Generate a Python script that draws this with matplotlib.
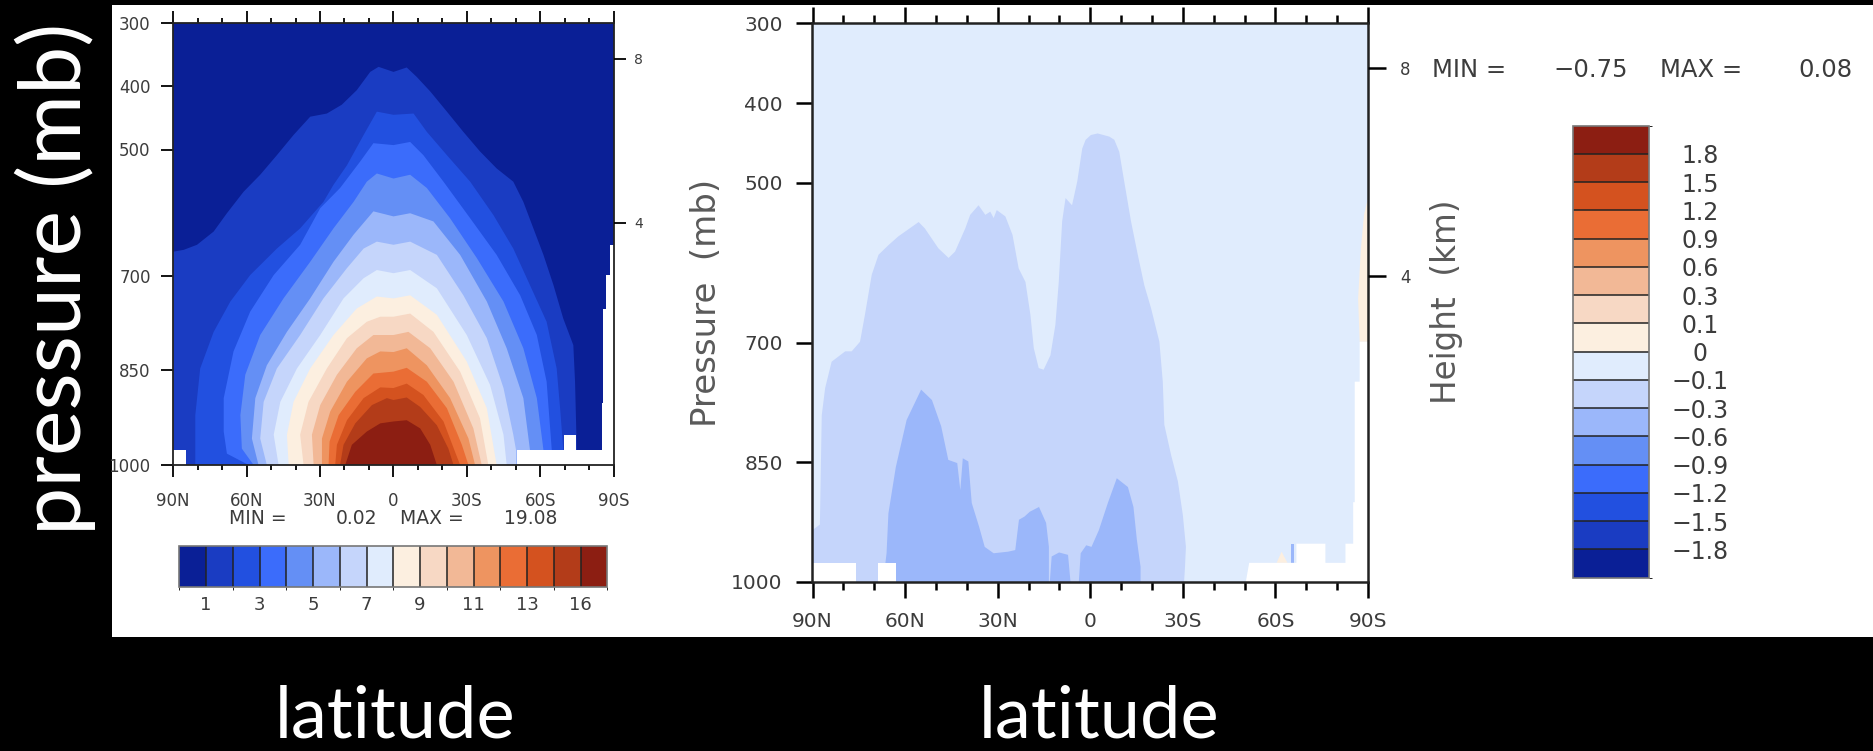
import matplotlib
matplotlib.use("Agg")
import matplotlib.pyplot as plt
import numpy as np
from matplotlib.colors import ListedColormap, BoundaryNorm
from matplotlib.cm import ScalarMappable
from matplotlib.patches import Rectangle
from matplotlib.ticker import MultipleLocator

W, H = 1874, 751

# ---- axes / labelbar data -------------------------------------------------
lat_ticks = [90, 60, 30, 0, -30, -60, -90]
lat_labels = ["90N", "60N", "30N", "0", "30S", "60S", "90S"]
p_ticks = [300, 400, 500, 700, 850, 1000]
height_ticks = [4, 8]          # km, standard atmosphere

q_levels = [1, 2, 3, 4, 5, 6, 7, 8, 9, 10, 11, 12, 13, 14, 16]
q_labels = [1, 3, 5, 7, 9, 11, 13, 16]
q_min, q_max = 0.02, 19.08

dq_levels = [-1.8, -1.5, -1.2, -0.9, -0.6, -0.3, -0.1, 0, 0.1, 0.3, 0.6, 0.9, 1.2, 1.5, 1.8]
dq_min, dq_max = -0.75, 0.08

box_colors = ["#0a1f96", "#1a3cc2", "#2250e0", "#3b6cfb", "#648ff5", "#9bb7fa",
              "#c5d5fb", "#e0ecfd", "#fcefe0", "#f7d8c4", "#f2b896", "#ee9460",
              "#ea6d35", "#d4521f", "#b33c19", "#8c1e12"]

# ---- left panel: outlines of q >= level (lat, pressure) ------------------
lat_ge01 = [90, 85.6, 80.2, 73.4, 68.0, 61.2, 54.4, 47.6, 40.8, 34.0, 27.2, 21.1, 15.0, 9.5, 6.1, 0.0,
            -5.4, -9.5, -15.0, -21.8, -28.5, -35.3, -42.1, -48.9, -53.0, -57.1, -61.2, -65.3, -69.3,
            -73.4, -74.1, -74.8]
p_ge01 = [662, 659, 651, 630, 601, 567, 540, 509, 477, 448, 443, 429, 406, 377, 369, 377,
          370, 385, 408, 440, 472, 503, 530, 551, 583, 625, 667, 715, 768, 810, 868, 976]
lat_ge02 = [80.9, 80.9, 78.9, 73.4, 66.6, 58.5, 47.6, 38.1, 28.6, 24.5, 19.0, 12.2, 6.8, 0.0, -8.2,
            -13.6, -21.8, -31.3, -40.8, -48.9, -55.7, -62.5, -66.6, -68.0, -69.3]
p_ge02 = [1000, 921, 847, 789, 741, 699, 657, 625, 583, 556, 525, 477, 440, 445, 443,
          472, 509, 551, 604, 657, 715, 773, 847, 910, 976]
lat_ge03 = [59.1, 68.0, 69.3, 69.3, 65.3, 58.5, 48.9, 38.1, 29.9, 21.8, 13.6, 8.2, 0.0, -6.8, -12.2,
            -20.4, -31.3, -42.1, -51.7, -58.5, -62.5, -64.6]
p_ge03 = [1000, 982, 947, 894, 820, 757, 699, 651, 593, 561, 519, 490, 493, 488, 509,
          551, 609, 667, 731, 794, 868, 976]
lat_ge04 = [57.1, 61.9, 62.5, 60.5, 54.4, 44.9, 34.0, 24.5, 16.3, 10.9, 6.8, 0.0, -6.8, -13.6, -23.1,
            -34.0, -44.9, -53.0, -58.5, -61.2]
p_ge04 = [1000, 974, 921, 857, 794, 736, 678, 625, 583, 551, 538, 546, 540, 561, 609,
          672, 741, 815, 894, 976]
lat_ge05 = [55.1, 57.8, 56.4, 51.7, 43.5, 34.0, 24.5, 16.3, 8.2, 0.0, -6.8, -16.3, -27.2, -38.1,
            -46.2, -53.0, -55.7]
p_ge05 = [1000, 958, 894, 842, 789, 736, 678, 635, 598, 606, 601, 614, 667, 741, 815, 894, 976]
lat_ge06 = [51.7, 54.4, 53.0, 47.6, 38.1, 28.6, 19.0, 12.2, 6.8, 0.0, -6.8, -17.7, -28.5, -38.1,
            -44.9, -48.9, -50.0]
p_ge06 = [1000, 958, 900, 847, 794, 736, 688, 657, 646, 651, 646, 667, 731, 799, 878, 952, 976]
lat_ge07 = [46.9, 48.9, 46.2, 39.4, 29.9, 20.4, 12.2, 6.8, 0.0, -6.8, -17.7, -29.9, -39.4, -44.9, -46.2]
p_ge07 = [1000, 952, 900, 847, 794, 736, 704, 691, 696, 691, 720, 794, 873, 952, 1000]
lat_ge08 = [42.8, 43.5, 40.8, 34.0, 24.5, 15.0, 6.8, 0.0, -6.8, -17.7, -29.9, -38.1, -42.1]
p_ge08 = [1000, 952, 900, 847, 794, 752, 733, 736, 731, 762, 836, 910, 1000]
lat_ge09 = [36.7, 38.1, 34.7, 27.2, 19.0, 10.9, 5.4, 0.0, -6.8, -16.3, -27.2, -35.3, -38.7]
p_ge09 = [1000, 952, 900, 847, 799, 773, 765, 765, 760, 789, 852, 926, 1000]
lat_ge10 = [32.6, 33.3, 29.9, 23.1, 15.0, 8.2, 0.0, -6.1, -15.0, -24.5, -32.6, -36.0]
p_ge10 = [1000, 952, 905, 857, 815, 794, 794, 789, 815, 868, 942, 1000]
lat_ge11 = [29.2, 29.2, 25.8, 19.0, 10.9, 5.4, 0.0, -5.4, -13.6, -23.1, -30.6, -33.3]
p_ge11 = [1000, 958, 915, 868, 831, 820, 821, 815, 842, 894, 958, 1000]
lat_ge12 = [26.5, 26.1, 22.4, 15.6, 8.2, 0.0, -5.4, -13.6, -21.8, -27.9, -30.6]
p_ge12 = [1000, 963, 921, 884, 855, 852, 846, 868, 910, 968, 1000]
lat_ge13 = [23.8, 23.1, 19.0, 12.2, 5.4, 0.0, -5.4, -12.2, -20.4, -25.1, -27.2]
p_ge13 = [1000, 968, 929, 894, 877, 878, 871, 889, 931, 979, 1000]
lat_ge14 = [21.8, 20.4, 15.6, 8.8, 2.7, 0.0, -5.4, -10.9, -17.7, -22.4, -24.5]
p_ge14 = [1000, 968, 934, 905, 894, 897, 893, 908, 937, 974, 1000]
lat_ge16 = [19.7, 17.0, 10.9, 5.4, 0.0, -5.4, -10.9, -15.0, -17.7]
p_ge16 = [1000, 968, 947, 934, 931, 929, 942, 968, 1000]

# below-ground (missing) cells, left panel
lat_miss_l1 = [90, 84.6, 84.6, 90]
p_miss_l1 = [976, 976, 1000, 1000]
lat_miss_l2 = [-50.3, -50.3, -69.7, -69.7, -74.5, -74.5, -85.0, -85.0, -85.6, -85.6, -86.7, -86.7,
               -88.4, -88.4, -90, -90]
p_miss_l2 = [1000, 976, 976, 952, 952, 976, 976, 902, 902, 752, 752, 699, 699, 651, 651, 1000]

# ---- right panel: difference field ---------------------------------------
# area below -0.1
lat_dq_a = [90, 87.6, 87.0, 85.9, 83.8, 79.4, 77.3, 74.6, 73.0, 70.8, 68.6, 65.4, 62.2, 60.0, 55.6,
            53.6, 49.2, 45.9, 43.8, 40.5, 38.9, 36.2, 34.0, 32.4, 31.3, 30.3, 27.5, 25.2, 23.2, 21.0,
            19.4, 18.3, 16.7, 15.1, 12.9, 11.3, 10.2, 9.1, 8.0, 5.9, 4.2, 2.6, 1.5, -0.2, -2.4,
            -6.2, -7.8, -9.4, -11.0, -13.2, -15.4, -17.5, -19.7, -22.4, -23.5, -24.0, -26.2, -28.4,
            -30.0, -30.6, -31.0, -30.7, -30.4]
p_dq_a = [935, 928, 791, 757, 724, 711, 711, 699, 665, 615, 590, 578, 567, 561, 549,
          557, 582, 594, 586, 557, 540, 528, 540, 536, 544, 534, 542, 565, 607, 624,
          665, 707, 732, 734, 716, 678, 624, 548, 519, 528, 498, 457, 446, 440, 438,
          442, 446, 461, 498, 548, 590, 628, 657, 699, 749, 803, 841, 874,
          916, 940, 956, 981, 1000]
# areas below -0.3
lat_dq_b1 = [67.1, 66.0, 65.4, 63.0, 59.5, 54.8, 51.3, 48.3, 46.0, 43.1, 42.1, 41.3, 39.5, 38.4,
             36.0, 34.2, 31.3, 26.6, 24.3, 23.1, 21.3, 19.6, 16.6, 14.3, 13.4, 13.4]
p_dq_b1 = [1000, 964, 914, 856, 797, 759, 772, 805, 847, 851, 885, 845, 849, 901,
           931, 956, 964, 962, 960, 922, 918, 912, 906, 926, 956, 1000]
lat_dq_b2 = [13.1, 12.5, 10.1, 7.2, 6.4]
p_dq_b2 = [1000, 968, 963, 966, 1000]
lat_dq_b3 = [3.7, 3.1, 1.3, -0.4, -2.8, -5.7, -8.6, -12.2, -14.0, -15.1, -16.3, -16.3]
p_dq_b3 = [1000, 964, 954, 956, 935, 901, 870, 881, 906, 947, 981, 1000]
lat_dq_b4 = [-65.1, -66.0, -66.0, -65.1]
p_dq_b4 = [952, 952, 976, 976]
# areas above 0
lat_dq_pos1 = [-90, -88.7, -87.7, -86.8, -87.3, -90]
p_dq_pos1 = [519, 540, 582, 645, 699, 699]
lat_dq_pos2 = [-60.4, -62.0, -63.9]
p_dq_pos2 = [976, 962, 976]
# missing cells, right panel
lat_miss_r1 = [90, 76.0, 76.0, 90]
p_miss_r1 = [976, 976, 1000, 1000]
lat_miss_r2 = [68.9, 63.0, 63.0, 68.9]
p_miss_r2 = [976, 976, 1000, 1000]
lat_miss_r3 = [-50.4, -51.5, -66.8, -66.8, -76.2, -76.2, -82.7, -82.7, -85.2, -85.2, -85.7, -85.7,
               -87.3, -87.3, -90, -90]
p_miss_r3 = [1000, 976, 976, 952, 952, 976, 976, 952, 952, 900, 900, 749, 749, 699, 699, 1000]

TXT = "#3c3c3c"
LBL = "#5a5a5a"


def fx(px):
    return px / W


def fy(py):
    return 1 - py / H


def h2p(h):
    """ standard atmosphere height (km) -> pressure (mb) """
    return 1013.25 * (1 - np.asarray(h) / 44.3308) ** (1 / 0.190263)


def fill_ground(ax, lat, p, color, z=1):
    # region bounded by an outline and the 1000 mb floor
    lat = np.asarray(lat, float)
    p = np.asarray(p, float)
    ax.fill(np.r_[lat, lat[-1], lat[0]], np.r_[p, 1000, 1000], color=color, lw=0, zorder=z)


def fill_poly(ax, lat, p, color, z=2):
    ax.fill(lat, p, color=color, lw=0, zorder=z)


def style_axes(ax, fs, major, minor, xpad, ypad, lw, hfs, hpad, hlen):
    ax.set_xlim(90, -90)
    ax.set_ylim(1000, 300)
    ax.set_xticks(lat_ticks)
    ax.set_xticklabels(lat_labels)
    ax.xaxis.set_minor_locator(MultipleLocator(10))
    ax.set_yticks(p_ticks)
    ax.set_yticklabels([str(v) for v in p_ticks])
    ax.tick_params(which="major", direction="out", length=major, width=lw,
                   labelsize=fs, labelcolor=TXT, top=True, right=False)
    ax.tick_params(axis="x", which="major", pad=xpad)
    ax.tick_params(axis="y", which="major", pad=ypad)
    ax.tick_params(which="minor", direction="out", length=minor, width=lw, top=True)
    ax.tick_params(axis="y", which="minor", left=False)
    for s in ax.spines.values():
        s.set_linewidth(lw)
        s.set_color("#222222")
        s.set_zorder(10)
    ax2 = ax.twinx()
    ax2.set_ylim(1000, 300)
    ax2.set_yticks(h2p(height_ticks))
    ax2.set_yticklabels([str(v) for v in height_ticks])
    ax2.tick_params(direction="out", length=hlen, width=lw, pad=hpad, labelsize=hfs, labelcolor=TXT)
    for s in ax2.spines.values():
        s.set_visible(False)
    return ax2


fig = plt.figure(figsize=(W / 100, H / 100), dpi=100, facecolor="black")
fig.patches.append(Rectangle((fx(112), fy(637)), 1 - fx(112), fy(5) - fy(637),
                             transform=fig.transFigure, facecolor="white", edgecolor="none", zorder=-10))

# ---- left panel ----------------------------------------------------------
axl = fig.add_axes([fx(173), fy(465), fx(614) - fx(173), fy(23.3) - fy(465)])
axl.set_facecolor(box_colors[0])
left_regions = [(lat_ge01, p_ge01), (lat_ge02, p_ge02), (lat_ge03, p_ge03), (lat_ge04, p_ge04),
                (lat_ge05, p_ge05), (lat_ge06, p_ge06), (lat_ge07, p_ge07), (lat_ge08, p_ge08),
                (lat_ge09, p_ge09), (lat_ge10, p_ge10), (lat_ge11, p_ge11), (lat_ge12, p_ge12),
                (lat_ge13, p_ge13), (lat_ge14, p_ge14), (lat_ge16, p_ge16)]
for i, (lat, p) in enumerate(left_regions):
    fill_ground(axl, lat, p, box_colors[i + 1])
fill_poly(axl, lat_miss_l1, p_miss_l1, "white", z=3)
fill_poly(axl, lat_miss_l2, p_miss_l2, "white", z=3)
style_axes(axl, fs=12, major=8.6, minor=3.8, xpad=11, ypad=7.5, lw=1.3, hfs=10, hpad=6, hlen=8.6)

y_mm = fy(518)
fig.text(fx(228.6), y_mm, "MIN =", fontsize=13.5, color=TXT, ha="left", va="center")
fig.text(fx(377), y_mm, f"{q_min:.2f}", fontsize=13.5, color=TXT, ha="right", va="center")
fig.text(fx(400), y_mm, "MAX =", fontsize=13.5, color=TXT, ha="left", va="center")
fig.text(fx(557), y_mm, f"{q_max:.2f}", fontsize=13.5, color=TXT, ha="right", va="center")

cmap = ListedColormap(box_colors)
q_bounds = np.r_[q_levels[0] - 1, q_levels, q_levels[-1] + 2]
cax_l = fig.add_axes([fx(179.3), fy(586.7), fx(607.3) - fx(179.3), fy(546) - fy(586.7)])
cb_l = fig.colorbar(ScalarMappable(norm=BoundaryNorm(q_bounds, 16), cmap=cmap), cax=cax_l,
                    orientation="horizontal", spacing="uniform", drawedges=True, ticks=q_labels)
cb_l.ax.set_xticklabels([str(v) for v in q_labels])
cb_l.ax.tick_params(length=0, labelsize=13, labelcolor=TXT, pad=7)
cb_l.outline.set_edgecolor("#777777")
cb_l.outline.set_linewidth(1.2)
cb_l.dividers.set_color("#222222")
cb_l.dividers.set_linewidth(1.1)

# ---- right panel ---------------------------------------------------------
axr = fig.add_axes([fx(812.5), fy(582), fx(1368) - fx(812.5), fy(23.3) - fy(582)])
axr.set_facecolor(box_colors[7])
fill_ground(axr, lat_dq_a, p_dq_a, box_colors[6])
for lat, p in [(lat_dq_b1, p_dq_b1), (lat_dq_b2, p_dq_b2), (lat_dq_b3, p_dq_b3)]:
    fill_ground(axr, lat, p, box_colors[5], z=2)
fill_poly(axr, lat_dq_b4, p_dq_b4, box_colors[5])
fill_poly(axr, lat_dq_pos1, p_dq_pos1, box_colors[8])
fill_poly(axr, lat_dq_pos2, p_dq_pos2, box_colors[8])
for lat, p in [(lat_miss_r1, p_miss_r1), (lat_miss_r2, p_miss_r2), (lat_miss_r3, p_miss_r3)]:
    fill_poly(axr, lat, p, "white", z=3)
style_axes(axr, fs=14.5, major=11.5, minor=6, xpad=10, ypad=10, lw=1.8, hfs=12, hpad=10, hlen=13)
axr.set_ylabel("Pressure  (mb)", fontsize=24.5, color=LBL, labelpad=6)
fig.text(fx(1447), fy(302), "Height  (km)", fontsize=23.5, color=LBL, rotation=90,
         ha="center", va="center")

y_mm = fy(70)
fig.text(fx(1432), y_mm, "MIN =", fontsize=17.5, color=TXT, ha="left", va="center")
fig.text(fx(1628), y_mm, f"{dq_min:.2f}".replace("-", "\u2212"), fontsize=17.5, color=TXT,
         ha="right", va="center")
fig.text(fx(1660), y_mm, "MAX =", fontsize=17.5, color=TXT, ha="left", va="center")
fig.text(fx(1853), y_mm, f"{dq_max:.2f}", fontsize=17.5, color=TXT, ha="right", va="center")

dq_bounds = np.r_[dq_levels[0] - 0.3, dq_levels, dq_levels[-1] + 0.3]
cax_r = fig.add_axes([fx(1572.7), fy(577.5), fx(1648.7) - fx(1572.7), fy(125.7) - fy(577.5)])
cb_r = fig.colorbar(ScalarMappable(norm=BoundaryNorm(dq_bounds, 16), cmap=cmap), cax=cax_r,
                    orientation="vertical", spacing="uniform", drawedges=True, ticks=dq_levels)
cb_r.ax.set_yticklabels([f"{v:g}".replace("-", "\u2212") for v in dq_levels])
cb_r.ax.tick_params(length=0, labelsize=17, labelcolor=TXT, pad=37)
for t in cb_r.ax.get_yticklabels():
    t.set_ha("center")
cb_r.outline.set_edgecolor("#777777")
cb_r.outline.set_linewidth(1.2)
cb_r.dividers.set_color("#222222")
cb_r.dividers.set_linewidth(1.1)

# ---- slide annotations ---------------------------------------------------
fig.text(fx(55), fy(279), "pressure (mb)", fontsize=62, color="white", family="Lato",
         rotation=90, ha="center", va="center")
fig.text(fx(395), fy(737), "latitude", fontsize=52, color="white", family="Lato",
         ha="center", va="baseline")
fig.text(fx(1099), fy(737), "latitude", fontsize=52, color="white", family="Lato",
         ha="center", va="baseline")

fig.savefig("out.png", dpi=100, facecolor="black")
